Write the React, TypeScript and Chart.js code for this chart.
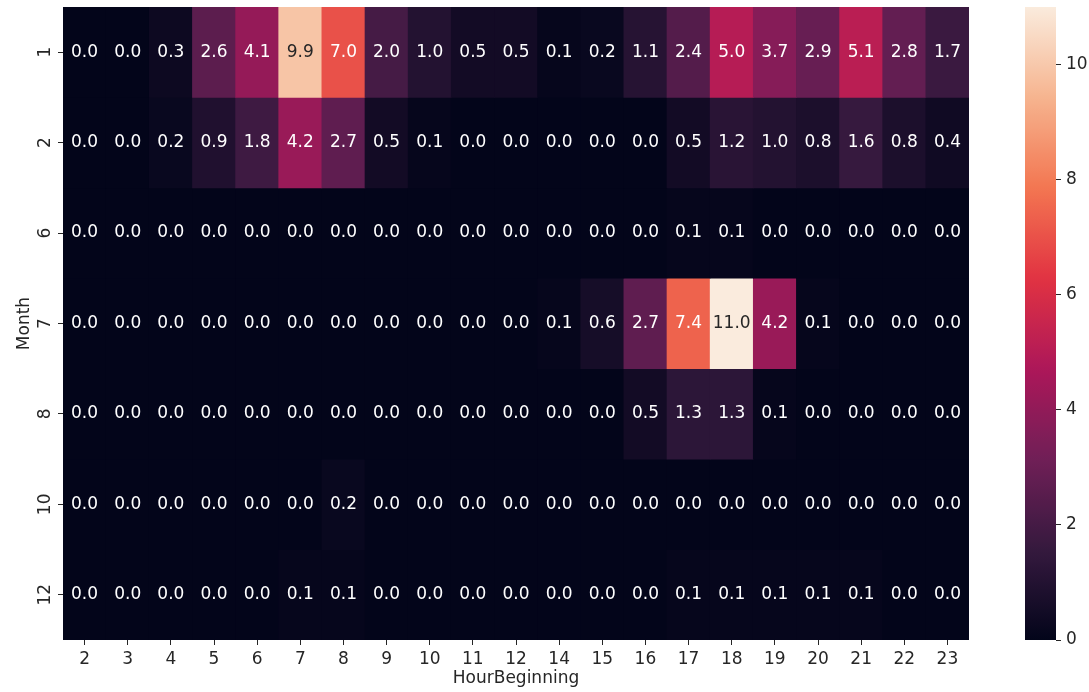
import React, { useEffect, useRef } from "react";
import { Chart, registerables } from "chart.js";
Chart.register(...registerables);

const hours = ["2", "3", "4", "5", "6", "7", "8", "9", "10", "11", "12", "14", "15", "16", "17", "18", "19", "20", "21", "22", "23"];
const months = ["1", "2", "6", "7", "8", "10", "12"];

const month1 = [0.0, 0.0, 0.3, 2.6, 4.1, 9.9, 7.0, 2.0, 1.0, 0.5, 0.5, 0.1, 0.2, 1.1, 2.4, 5.0, 3.7, 2.9, 5.1, 2.8, 1.7];
const month2 = [0.0, 0.0, 0.2, 0.9, 1.8, 4.2, 2.7, 0.5, 0.1, 0.0, 0.0, 0.0, 0.0, 0.0, 0.5, 1.2, 1.0, 0.8, 1.6, 0.8, 0.4];
const month6 = [0.0, 0.0, 0.0, 0.0, 0.0, 0.0, 0.0, 0.0, 0.0, 0.0, 0.0, 0.0, 0.0, 0.0, 0.1, 0.1, 0.0, 0.0, 0.0, 0.0, 0.0];
const month7 = [0.0, 0.0, 0.0, 0.0, 0.0, 0.0, 0.0, 0.0, 0.0, 0.0, 0.0, 0.1, 0.6, 2.7, 7.4, 11.0, 4.2, 0.1, 0.0, 0.0, 0.0];
const month8 = [0.0, 0.0, 0.0, 0.0, 0.0, 0.0, 0.0, 0.0, 0.0, 0.0, 0.0, 0.0, 0.0, 0.5, 1.3, 1.3, 0.1, 0.0, 0.0, 0.0, 0.0];
const month10 = [0.0, 0.0, 0.0, 0.0, 0.0, 0.0, 0.2, 0.0, 0.0, 0.0, 0.0, 0.0, 0.0, 0.0, 0.0, 0.0, 0.0, 0.0, 0.0, 0.0, 0.0];
const month12 = [0.0, 0.0, 0.0, 0.0, 0.0, 0.1, 0.1, 0.0, 0.0, 0.0, 0.0, 0.0, 0.0, 0.0, 0.1, 0.1, 0.1, 0.1, 0.1, 0.0, 0.0];
const values = [month1, month2, month6, month7, month8, month10, month12];

const colorbarTicks = [0, 2, 4, 6, 8, 10];
const vmin = 0;
const vmax = 11.0;

const rocketStops: [number, string][] = [
  [0.0, "#03051a"],
  [1 / 7, "#35193e"],
  [2 / 7, "#701f57"],
  [3 / 7, "#ad1759"],
  [4 / 7, "#e13342"],
  [5 / 7, "#f37651"],
  [6 / 7, "#f6b48f"],
  [1.0, "#faebdd"],
];

function hexToRgb(h: string): number[] {
  return [parseInt(h.slice(1, 3), 16), parseInt(h.slice(3, 5), 16), parseInt(h.slice(5, 7), 16)];
}

function cmap(t: number): number[] {
  const tt = Math.max(0, Math.min(1, t));
  for (let i = 0; i < rocketStops.length - 1; i++) {
    const [t0, c0] = rocketStops[i];
    const [t1, c1] = rocketStops[i + 1];
    if (tt <= t1) {
      const f = (tt - t0) / (t1 - t0);
      const a = hexToRgb(c0);
      const b = hexToRgb(c1);
      return a.map((v, k) => Math.round(v + (b[k] - v) * f));
    }
  }
  return hexToRgb(rocketStops[rocketStops.length - 1][1]);
}

const norm = (v: number) => (v - vmin) / (vmax - vmin);
const rgbStr = (c: number[]) => `rgb(${c[0]},${c[1]},${c[2]})`;

function luminance(c: number[]): number {
  const lin = c.map((v) => {
    const s = v / 255;
    return s <= 0.03928 ? s / 12.92 : Math.pow((s + 0.055) / 1.055, 2.4);
  });
  return 0.2126 * lin[0] + 0.7152 * lin[1] + 0.0722 * lin[2];
}

const FONT = "DejaVu Sans";
const TEXT = "#262626";
const FS = 17;

export default function App() {
  const mainRef = useRef<HTMLCanvasElement>(null);
  const cbRef = useRef<HTMLCanvasElement>(null);

  useEffect(() => {
    const bgPlugin = {
      id: "bgfill",
      beforeDatasetsDraw(chart: any) {
        const { ctx, chartArea } = chart;
        ctx.save();
        ctx.fillStyle = rgbStr(cmap(0));
        ctx.fillRect(chartArea.left, chartArea.top, chartArea.right - chartArea.left, chartArea.bottom - chartArea.top);
        ctx.restore();
      },
    };
    const annotPlugin = {
      id: "annot",
      afterDatasetsDraw(chart: any) {
        const ctx = chart.ctx;
        ctx.save();
        ctx.font = `${FS}px "${FONT}"`;
        ctx.textAlign = "center";
        ctx.textBaseline = "middle";
        chart.data.datasets.forEach((ds: any, i: number) => {
          const meta = chart.getDatasetMeta(i);
          meta.data.forEach((el: any, j: number) => {
            const v = values[i][j];
            const p = el.getProps(["x", "y", "base"], true);
            const c = cmap(norm(v));
            ctx.fillStyle = luminance(c) > 0.408 ? TEXT : "#ffffff";
            ctx.fillText(v.toFixed(1), p.x, (p.y + p.base) / 2);
          });
        });
        ctx.restore();
      },
    };

    const datasets = months.map((m, r) => ({
      label: m,
      data: values[r].map((v, c) => ({ x: hours[c], y: [r, r + 1] })),
      backgroundColor: values[r].map((v) => rgbStr(cmap(norm(v)))),
      borderWidth: 0,
      barPercentage: 1,
      categoryPercentage: 1,
      grouped: false,
    }));

    const main = new Chart(mainRef.current!, {
      type: "bar",
      data: { labels: hours, datasets: datasets as any },
      options: {
        animation: false,
        responsive: false,
        devicePixelRatio: 1,
        events: [],
        layout: { padding: { left: 0, top: 7, right: 31, bottom: 0 } },
        plugins: { legend: { display: false }, tooltip: { enabled: false } },
        scales: {
          x: {
            type: "category",
            offset: true,
            grid: { offset: false, drawOnChartArea: false, drawTicks: true, tickLength: 5, color: TEXT },
            border: { display: false },
            ticks: { color: TEXT, font: { family: FONT, size: FS }, padding: 4, maxRotation: 0, minRotation: 0, autoSkip: false },
            title: { display: true, text: "HourBeginning", color: TEXT, font: { family: FONT, size: FS }, padding: { top: 0, bottom: 3 } },
            afterFit: (s: any) => {
              s.height = 52;
              s.paddingLeft = 0;
              s.paddingRight = 0;
            },
          },
          y: {
            type: "linear",
            min: 0,
            max: 7,
            reverse: true,
            afterBuildTicks: (s: any) => { s.ticks = months.map((_, i) => ({ value: i + 0.5 })); },
            grid: { drawOnChartArea: false, drawTicks: true, tickLength: 5, color: TEXT },
            border: { display: false },
            ticks: {
              color: TEXT,
              font: { family: FONT, size: FS },
              padding: 2,
              minRotation: 90,
              maxRotation: 90,
              crossAlign: "center",
              callback: (_v: any, idx: number) => months[idx],
            },
            title: { display: true, text: "Month", color: TEXT, font: { family: FONT, size: FS }, padding: { top: 14, bottom: 0 } },
            afterFit: (s: any) => {
              s.width = 63;
              s.paddingTop = 0;
              s.paddingBottom = 0;
            },
          },
        },
      } as any,
      plugins: [bgPlugin, annotPlugin],
    });

    const gradPlugin = {
      id: "grad",
      beforeDatasetsDraw(chart: any) {
        const { ctx, chartArea } = chart;
        const g = ctx.createLinearGradient(0, chartArea.bottom, 0, chartArea.top);
        for (let i = 0; i <= 64; i++) {
          const t = i / 64;
          g.addColorStop(t, rgbStr(cmap(t)));
        }
        ctx.save();
        ctx.fillStyle = g;
        ctx.fillRect(chartArea.left, chartArea.top, chartArea.right - chartArea.left, chartArea.bottom - chartArea.top);
        ctx.restore();
      },
    };

    const cb = new Chart(cbRef.current!, {
      type: "bar",
      data: { labels: [""], datasets: [] },
      options: {
        animation: false,
        responsive: false,
        devicePixelRatio: 1,
        events: [],
        layout: { padding: { left: 25, top: 7, right: 0, bottom: 52 } },
        plugins: { legend: { display: false }, tooltip: { enabled: false } },
        scales: {
          x: { display: false },
          y: {
            type: "linear",
            position: "right",
            min: vmin,
            max: vmax,
            afterBuildTicks: (s: any) => { s.ticks = colorbarTicks.map((v) => ({ value: v })); },
            grid: { drawOnChartArea: false, drawTicks: true, tickLength: 5, color: TEXT },
            border: { display: false },
            ticks: { color: TEXT, font: { family: FONT, size: FS }, padding: 5 },
            afterFit: (s: any) => {
              s.width = 33;
              s.paddingTop = 0;
              s.paddingBottom = 0;
            },
          },
        },
      } as any,
      plugins: [gradPlugin],
    });

    return () => {
      main.destroy();
      cb.destroy();
    };
  }, []);

  return (
    <div style={{ position: "absolute", left: 0, top: 0, width: 1089, height: 692, background: "#ffffff" }}>
      <canvas ref={mainRef} width={1000} height={692} style={{ position: "absolute", left: 0, top: 0, width: 1000, height: 692 }} />
      <canvas ref={cbRef} width={89} height={692} style={{ position: "absolute", left: 1000, top: 0, width: 89, height: 692 }} />
    </div>
  );
}
